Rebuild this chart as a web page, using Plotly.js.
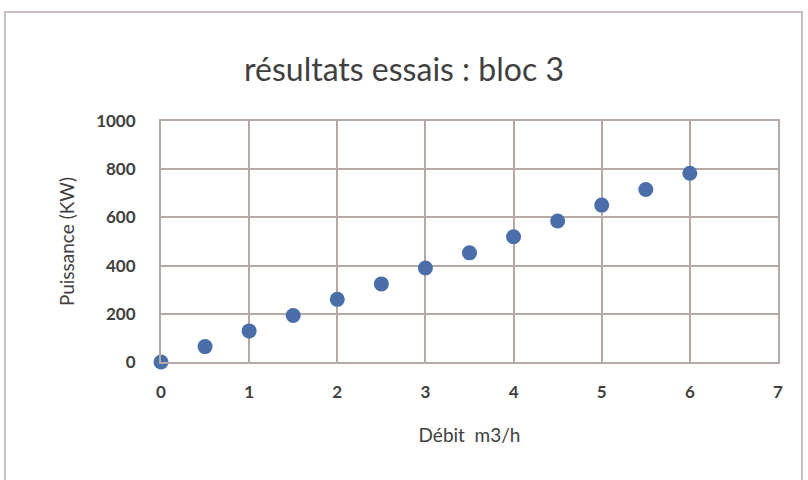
<!DOCTYPE html>
<html>
<head>
<meta charset="utf-8">
<script src="https://cdn.plot.ly/plotly-3.0.1.min.js"></script>
<style>html,body{margin:0;padding:0;background:#fff;}#chart{width:808px;height:480px;}</style>
</head>
<body>
<div id="chart"></div>
<script>
const debit = [0, 0.5, 1, 1.5, 2, 2.5, 3, 3.5, 4, 4.5, 5, 5.5, 6];
const puissance = [0, 64, 129, 193, 260, 324, 390, 453, 520, 585, 651, 716, 783];
const xTicks = [0, 1, 2, 3, 4, 5, 6, 7];
const yTicks = [0, 200, 400, 600, 800, 1000];

const gridCol = '#b5a9a6';
const textCol = '#404040';
const fontFam = 'Lato, "Open Sans", sans-serif';

Plotly.newPlot('chart', [{
  x: debit, y: puissance, type: 'scatter', mode: 'markers', cliponaxis: false,
  marker: {color: '#4a6ea8', size: 15}
}], {
  width: 808, height: 480,
  paper_bgcolor: '#fff', plot_bgcolor: '#fff',
  margin: {l: 161, r: 30, t: 121, b: 118},
  showlegend: false,
  title: {text: 'résultats essais : bloc 3', x: 0.5, xanchor: 'center', y: 0.855, yanchor: 'middle',
          font: {family: fontFam, size: 32, color: textCol}},
  xaxis: {range: [0, 7], tickvals: xTicks, ticktext: xTicks.map(String), showgrid: true, gridcolor: gridCol, gridwidth: 2,
          showline: true, linecolor: gridCol, linewidth: 2, mirror: true, zeroline: false,
          ticks: '', ticklabelstandoff: 14,
          tickfont: {family: fontFam, size: 17, color: textCol, weight: 700},
          title: {text: 'Débit  m3/h', standoff: 27, font: {family: fontFam, size: 19, color: textCol}}},
  yaxis: {range: [0, 1000], tickvals: yTicks, ticktext: yTicks.map(String), showgrid: true, gridcolor: gridCol, gridwidth: 2,
          showline: true, linecolor: gridCol, linewidth: 2, mirror: true, zeroline: false,
          ticks: '', ticklabelstandoff: 20,
          tickfont: {family: fontFam, size: 17, color: textCol, weight: 700},
          title: {text: 'Puissance (KW)', standoff: 16, font: {family: fontFam, size: 19, color: textCol}}},
  shapes: [{type: 'rect', xref: 'paper', yref: 'paper',
            x0: -156/617, x1: 1 + 24/617, y0: -130/241, y1: 1 + 109/241,
            line: {color: '#c9bfbd', width: 2}, fillcolor: 'rgba(0,0,0,0)', layer: 'below'}]
}, {displayModeBar: false, staticPlot: true});
</script>
</body>
</html>
